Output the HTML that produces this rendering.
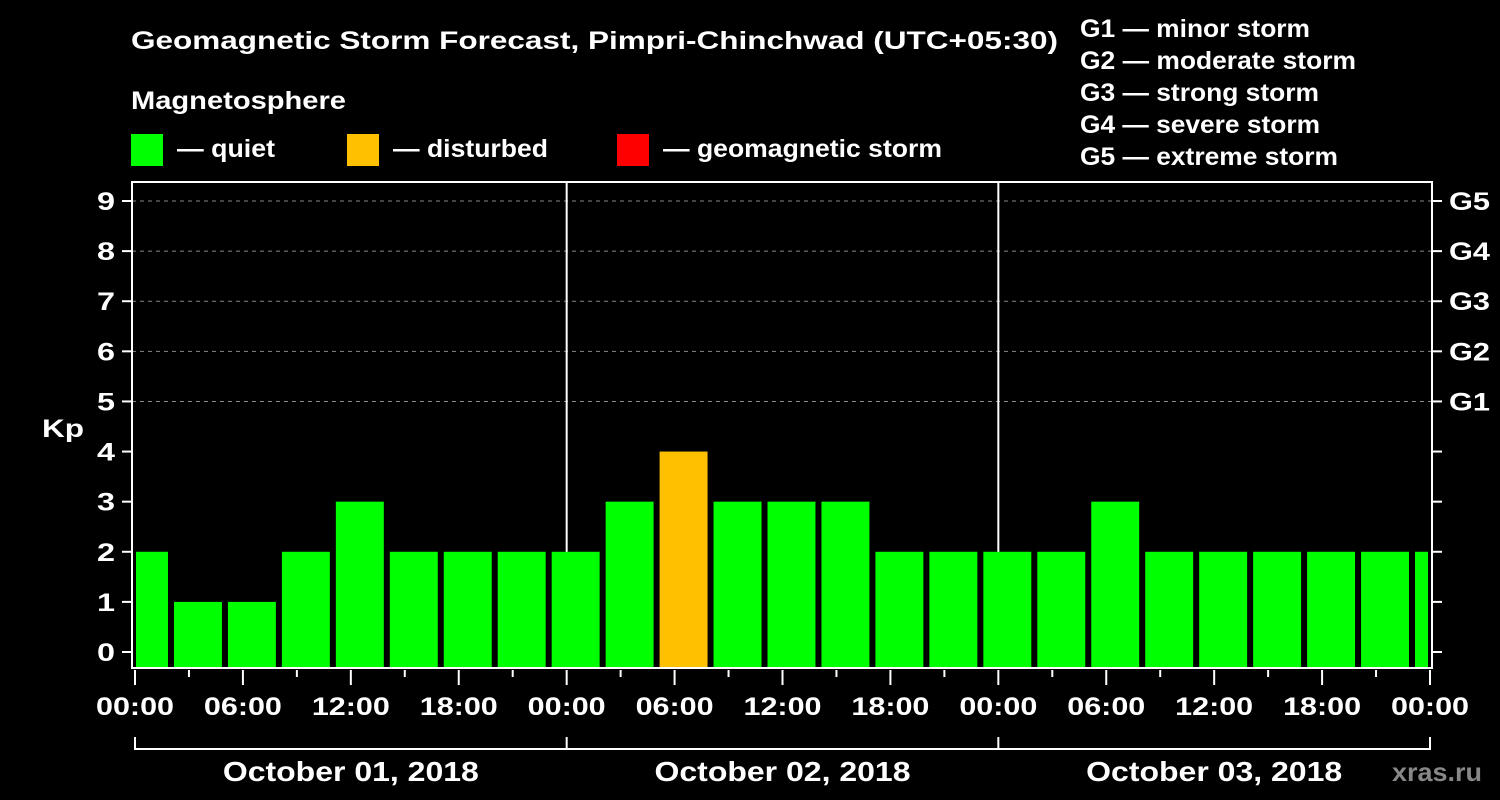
<!DOCTYPE html>
<html><head><meta charset="utf-8"><style>
html,body{margin:0;padding:0;background:#000;}
svg{display:block;font-family:"Liberation Sans",Arial,sans-serif;font-weight:bold;}
</style></head><body>
<svg id="chart" width="1500" height="800" viewBox="0 0 1500 800">
<rect x="0" y="0" width="1500" height="800" fill="#000"/>
<text x="131" y="49" fill="#fff" font-size="25" textLength="927" lengthAdjust="spacingAndGlyphs">Geomagnetic Storm Forecast, Pimpri-Chinchwad (UTC+05:30)</text>
<text x="131" y="109" fill="#fff" font-size="25" textLength="215" lengthAdjust="spacingAndGlyphs">Magnetosphere</text>
<g><rect x="131" y="134" width="32" height="32" fill="#00ff00"/><text x="177" y="157" fill="#fff" font-size="25" textLength="98" lengthAdjust="spacingAndGlyphs">— quiet</text></g>
<g><rect x="347" y="134" width="32" height="32" fill="#ffc000"/><text x="393" y="157" fill="#fff" font-size="25" textLength="155" lengthAdjust="spacingAndGlyphs">— disturbed</text></g>
<g><rect x="617" y="134" width="32" height="32" fill="#ff0000"/><text x="663" y="157" fill="#fff" font-size="25" textLength="279" lengthAdjust="spacingAndGlyphs">— geomagnetic storm</text></g>
<g fill="#fff" font-size="25">
<text x="1080" y="37" textLength="230" lengthAdjust="spacingAndGlyphs">G1 — minor storm</text>
<text x="1080" y="69" textLength="276" lengthAdjust="spacingAndGlyphs">G2 — moderate storm</text>
<text x="1080" y="101" textLength="239" lengthAdjust="spacingAndGlyphs">G3 — strong storm</text>
<text x="1080" y="133" textLength="240" lengthAdjust="spacingAndGlyphs">G4 — severe storm</text>
<text x="1080" y="165" textLength="258" lengthAdjust="spacingAndGlyphs">G5 — extreme storm</text>
</g>
<text x="42" y="437" fill="#fff" font-size="25" textLength="42" lengthAdjust="spacingAndGlyphs">Kp</text>
<g id="grid"></g>
<g id="bars"></g>
<g id="axes"></g>
<text x="1392" y="781" fill="#888" font-size="26" textLength="90" lengthAdjust="spacingAndGlyphs">xras.ru</text>
</svg>
<script>
const kpValues=[2,1,1,2,3,2,2,2,2,3,4,3,3,3,2,2,2,2,3,2,2,2,2,2,2];
const yTicks=[0,1,2,3,4,5,6,7,8,9];
const gLabels=["G1","G2","G3","G4","G5"];
const xTickLabels=["00:00","06:00","12:00","18:00","00:00","06:00","12:00","18:00","00:00","06:00","12:00","18:00","00:00"];
const dateLabels=["October 01, 2018","October 02, 2018","October 03, 2018"];
const firstBoundaryHour=-1;
const NS="http://www.w3.org/2000/svg";
const L=132,R=1432,T=182,B=668,X0=135,X1=1430;
const xs=h=>X0+h*(X1-X0)/72;
const ys=v=>652-v*(652-201)/9;
function mk(tag,attrs,parent){const e=document.createElementNS(NS,tag);for(const k in attrs)e.setAttribute(k,attrs[k]);parent.appendChild(e);return e;}
const grid=document.getElementById('grid'),bars=document.getElementById('bars'),axes=document.getElementById('axes');
for(let v=5;v<=9;v++){const l=mk('line',{x1:L,x2:R,y1:ys(v),y2:ys(v),stroke:'#888','stroke-width':1,'stroke-dasharray':'4,4'},grid);

}
[24,48].forEach(h=>{const l=mk('line',{x1:xs(h),x2:xs(h),y1:T,y2:B,stroke:'#fff','stroke-width':2},grid);

});
kpValues.forEach((v,i)=>{
 const h0=firstBoundaryHour+i*3;
 let x0=xs(h0)+3,x1=xs(h0+3)-3;
 x0=Math.max(x0,L+4);x1=Math.min(x1,R-4);
 const c=v>=5?'#ff0000':(v>=4?'#ffc000':'#00ff00');
 const top=ys(v);
 const r=mk('rect',{x:x0,y:top,width:x1-x0,height:B-top,fill:c},bars);
 
 
});
const frame=mk('rect',{x:L,y:T,width:R-L,height:B-T,fill:'none',stroke:'#fff','stroke-width':2},axes);


yTicks.forEach(v=>{
 mk('line',{x1:122,x2:L,y1:ys(v),y2:ys(v),stroke:'#fff','stroke-width':2},axes);
 mk('line',{x1:R,x2:1442,y1:ys(v),y2:ys(v),stroke:'#fff','stroke-width':2},axes);
 const t=mk('text',{x:97,y:ys(v)+9,fill:'#fff','font-size':25,textLength:18,lengthAdjust:'spacingAndGlyphs'},axes);t.textContent=v;
 
 
});
gLabels.forEach((g,i)=>{const t=mk('text',{x:1449,y:ys(5+i)+9,fill:'#fff','font-size':25,textLength:41,lengthAdjust:'spacingAndGlyphs'},axes);t.textContent=g;
 
 });
for(let h=0;h<=72;h+=3){const major=h%6===0;mk('line',{x1:xs(h),x2:xs(h),y1:B+2,y2:major?B+17:B+9,stroke:'#fff','stroke-width':2},axes);}
xTickLabels.forEach((s,i)=>{const t=mk('text',{x:xs(i*6)-39,y:715,fill:'#fff','font-size':25,textLength:78,lengthAdjust:'spacingAndGlyphs'},axes);t.textContent=s;
 
 });
mk('path',{d:`M${xs(0)},737V749H${xs(72)}V737`,fill:'none',stroke:'#fff','stroke-width':2},axes);
[24,48].forEach(h=>mk('line',{x1:xs(h),x2:xs(h),y1:737,y2:749,stroke:'#fff','stroke-width':2},axes));
dateLabels.forEach((s,i)=>{const t=mk('text',{x:xs(i*24+12)-128,y:781,fill:'#fff','font-size':28,textLength:256,lengthAdjust:'spacingAndGlyphs'},axes);t.textContent=s;
 
 });
</script>
</body></html>
